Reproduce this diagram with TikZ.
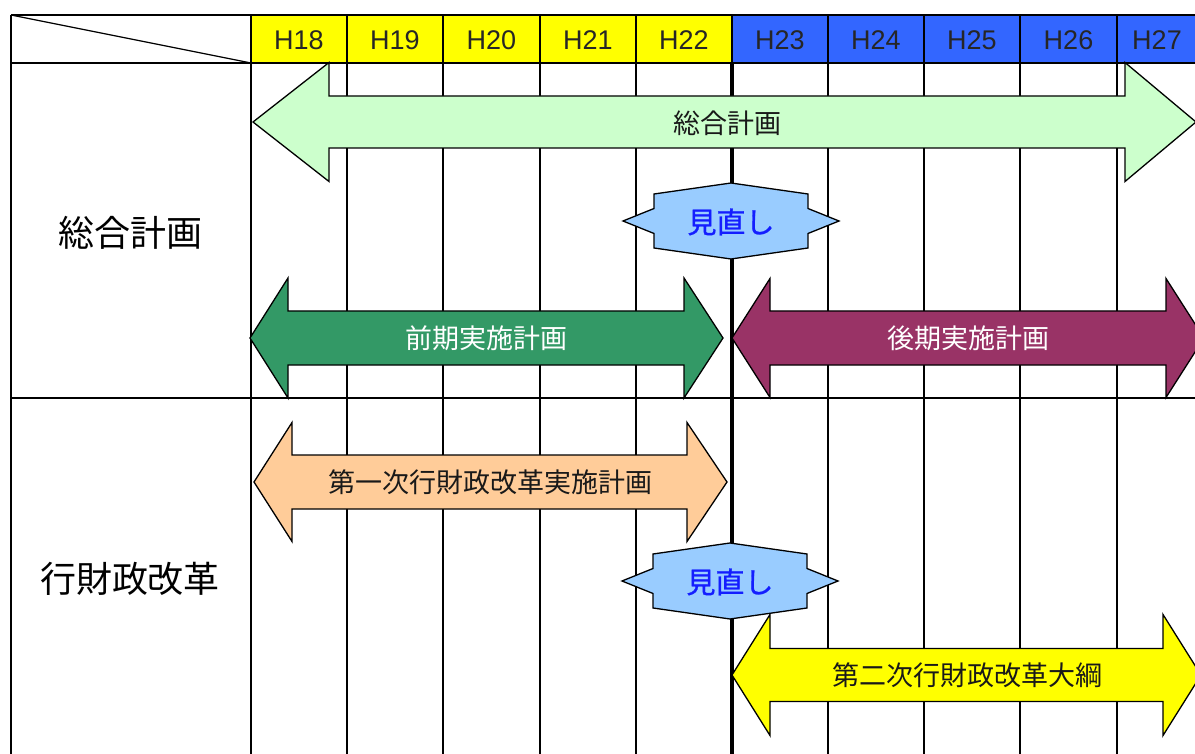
\documentclass[tikz,border=0pt]{standalone}
\usepackage{fontspec}
\setmainfont{Liberation Sans}
\newfontfamily\jp{Noto Sans CJK JP}
\newfontfamily\jpm{Noto Sans CJK JP}[FakeBold=0.9]
\definecolor{hyellow}{RGB}{255,255,0}
\definecolor{hblue}{RGB}{51,102,255}
\definecolor{lgreen}{RGB}{204,255,204}
\definecolor{dgreen}{RGB}{51,153,102}
\definecolor{burg}{RGB}{153,51,102}
\definecolor{lorange}{RGB}{255,204,153}
\definecolor{lblue}{RGB}{153,204,255}
\definecolor{rtext}{RGB}{20,30,255}
\newcommand\dblarrow[8]{%
  \draw[arrowshape,fill=#1] ({#2},{#6}) -- ({#3},{#6-#8}) -- ({#3},{#6-#7}) -- ({#4},{#6-#7}) -- ({#4},{#6-#8}) -- ({#5},{#6})
    -- ({#4},{#6+#8}) -- ({#4},{#6+#7}) -- ({#3},{#6+#7}) -- ({#3},{#6+#8}) -- cycle;}
\newcommand\reviewshape[3]{%
  \draw[arrowshape,fill=lblue] ({#1-77},{#2-27}) -- ({#1},{#2-38}) -- ({#1+77},{#2-27}) -- ({#1+77},{#2-12.5}) -- ({#1+108},{#2})
    -- ({#1+77},{#2+12.5}) -- ({#1+77},{#2+27}) -- ({#1},{#2+38}) -- ({#1-77},{#2+27}) -- ({#1-77},{#2+12.5})
    -- ({#1-108},{#2}) -- ({#1-77},{#2-12.5}) -- cycle;
  \node[reviewtext] (#3) at (#1,#2+1) {見直し};}
\begin{document}
\begin{tikzpicture}[x=1pt,y=-1pt,
  gridline/.style={line width=1.7pt,black},
  thickline/.style={line width=3.6pt,black},
  arrowshape/.style={draw=black,line width=1.3pt,line join=miter},
  hdr/.style={font=\fontsize{27}{30}\selectfont,text=black!85,inner sep=0pt},
  albl/.style={font=\jp\fontsize{27}{30}\selectfont,inner sep=0pt},
  rowlbl/.style={font=\jp\fontsize{36}{40}\selectfont,inner sep=0pt,text=black},
  reviewtext/.style={font=\jpm\fontsize{29}{32}\selectfont,text=rtext,inner sep=0pt}]
\useasboundingbox (0,0) rectangle (1195,754);
\clip (0,0) rectangle (1195,754);
\fill[white] (0,0) rectangle (1195,754);
% header fills
\fill[hyellow] (251,15) rectangle (732,63);
\fill[hblue] (732,15) rectangle (1200,63);
% grid
\foreach \x in {251,347,443,540,636,828,924,1020,1117}
  \draw[gridline] (\x,15) -- (\x,760);
\draw[gridline] (732,15) -- (732,63);
\draw[gridline] (11,15) -- (11,760);
\draw[gridline] (11,15) -- (1200,15);
\draw[gridline] (11,63) -- (1200,63);
\draw[gridline] (11,398) -- (1200,398);
\draw[line width=1.2pt] (11,15) -- (251,63);
\draw[thickline] (732,63) -- (732,760);
% header labels
\foreach \lab/\cx in {H18/299,H19/395,H20/491.5,H21/588,H22/684,H23/780,H24/876,H25/972,H26/1068.5,H27/1157}
  \node[hdr] (hd\lab) at (\cx,40) {\lab};
% row labels
\node[rowlbl] (rowA) at (130,233) {総合計画};
\node[rowlbl] (rowB) at (130,579) {行財政改革};
% arrows
\dblarrow{lgreen}{253}{329}{1125}{1196}{122}{26}{59.5}
\node[albl,text=black!90] (plan) at (727,123) {総合計画};
\dblarrow{dgreen}{250}{288}{684}{723}{338}{27}{60}
\node[albl,text=white] (early) at (486,338) {前期実施計画};
\dblarrow{burg}{732}{770}{1166}{1204}{338}{27}{59.5}
\node[albl,text=white] (late) at (968,338) {後期実施計画};
\dblarrow{lorange}{254}{292}{687}{727}{482}{27}{59.5}
\node[albl,text=black!90] (first) at (490,482) {第一次行財政改革実施計画};
\dblarrow{hyellow}{732}{770}{1163}{1201}{675}{26.5}{60.5}
\node[albl,text=black!90] (second) at (967,675) {第二次行財政改革大綱};
% review shapes
\reviewshape{731}{221}{reviewA}
\reviewshape{730}{581}{reviewB}
\end{tikzpicture}
\end{document}
